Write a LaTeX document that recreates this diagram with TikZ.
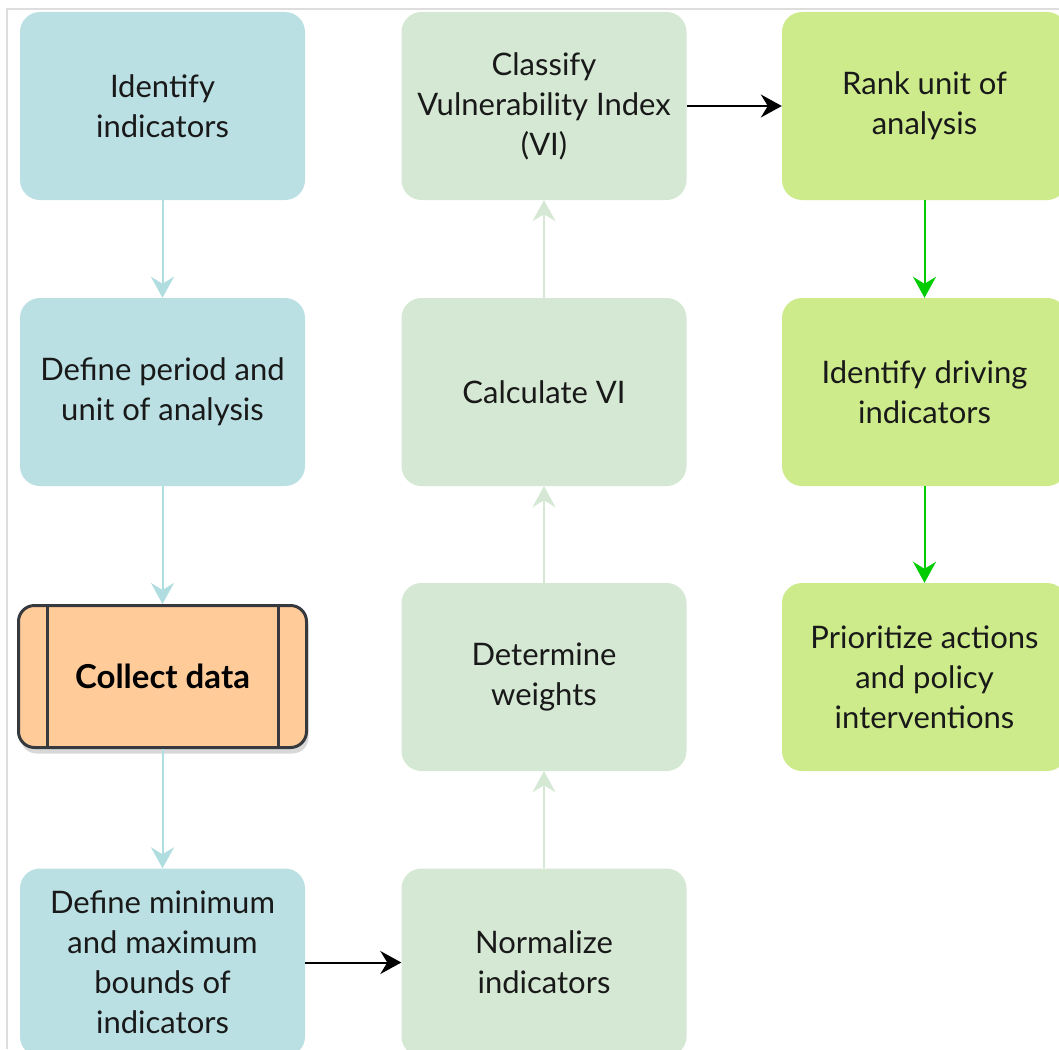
\documentclass[tikz,border=0pt]{standalone}
\usepackage{fontspec}
\setmainfont{Lato}
\usetikzlibrary{arrows.meta,shadows}
\definecolor{cblue}{HTML}{BAE0E3}
\definecolor{cgreen}{HTML}{D5E8D4}
\definecolor{clime}{HTML}{CDEB8B}
\definecolor{corange}{HTML}{FFCC99}
\definecolor{cdark}{HTML}{36393D}
\definecolor{ablue}{HTML}{B0DDE0}
\definecolor{agreen}{HTML}{D5E8D4}
\definecolor{alime}{HTML}{00CC00}
\definecolor{frame}{HTML}{DDDDDD}
\tikzset{
  box/.style={rectangle, rounded corners=20pt, minimum width=285pt, minimum height=188pt,
    inner sep=0pt, align=center, font=\fontsize{31}{40}\selectfont, text=black!90},
  bluebox/.style={box, fill=cblue},
  greenbox/.style={box, fill=cgreen},
  limebox/.style={box, fill=clime},
  conn/.style={line width=2pt, -{Stealth[length=21pt,width=23pt,inset=7pt]}},
}
\begin{document}
\begin{tikzpicture}[x=1pt,y=-1pt]
\useasboundingbox (0,0) rectangle (1059,1049);
\clip (0,0) rectangle (1059,1049);
\fill[white] (0,0) rectangle (1059,1049);
\draw[frame, line width=2pt] (1059,9) -- (7,9) -- (7,1049);
% column 1
\node[bluebox] (b1) at (162.5,106) {Identify\\indicators};
\node[bluebox] (b2) at (162.5,392) {Define period and\\unit of analysis};
\node[rectangle, rounded corners=16pt, minimum width=288pt, minimum height=142pt, inner sep=0pt,
  fill=corange, draw=cdark, line width=3pt,
  drop shadow={opacity=0.3, shadow xshift=2pt, shadow yshift=-6pt},
  font=\fontsize{33}{40}\selectfont\bfseries] (b3) at (162.5,676.5) {Collect data};
\draw[cdark, line width=3pt] ([xshift=30pt]b3.north west) -- ([xshift=30pt]b3.south west);
\draw[cdark, line width=3pt] ([xshift=-30pt]b3.north east) -- ([xshift=-30pt]b3.south east);
\node[bluebox] (b4) at (162.5,962.5) {Define minimum\\and maximum\\bounds of\\indicators};
% column 2
\node[greenbox] (g1) at (544,106) {Classify\\Vulnerability Index\\(VI)};
\node[greenbox] (g2) at (544,392) {Calculate VI};
\node[greenbox] (g3) at (544,677) {Determine\\weights};
\node[greenbox] (g4) at (544,962.5) {Normalize\\indicators};
% column 3
\node[limebox] (l1) at (924.5,106) {Rank unit of\\analysis};
\node[limebox] (l2) at (924.5,392) {Identify driving\\indicators};
\node[limebox] (l3) at (924.5,677) {Prioritize actions\\and policy\\interventions};
% connectors
\draw[conn, ablue] (b1) -- (b2);
\draw[conn, ablue] (b2) -- (b3);
\draw[conn, ablue] (b3) -- (b4);
\draw[conn, black] (b4.east |- g4) -- (g4);
\draw[conn, agreen] (g4) -- (g3);
\draw[conn, agreen] (g3) -- (g2);
\draw[conn, agreen] (g2) -- (g1);
\draw[conn, black] (g1) -- (l1);
\draw[conn, alime] (l1) -- (l2);
\draw[conn, alime] (l2) -- (l3);
\end{tikzpicture}
\end{document}
